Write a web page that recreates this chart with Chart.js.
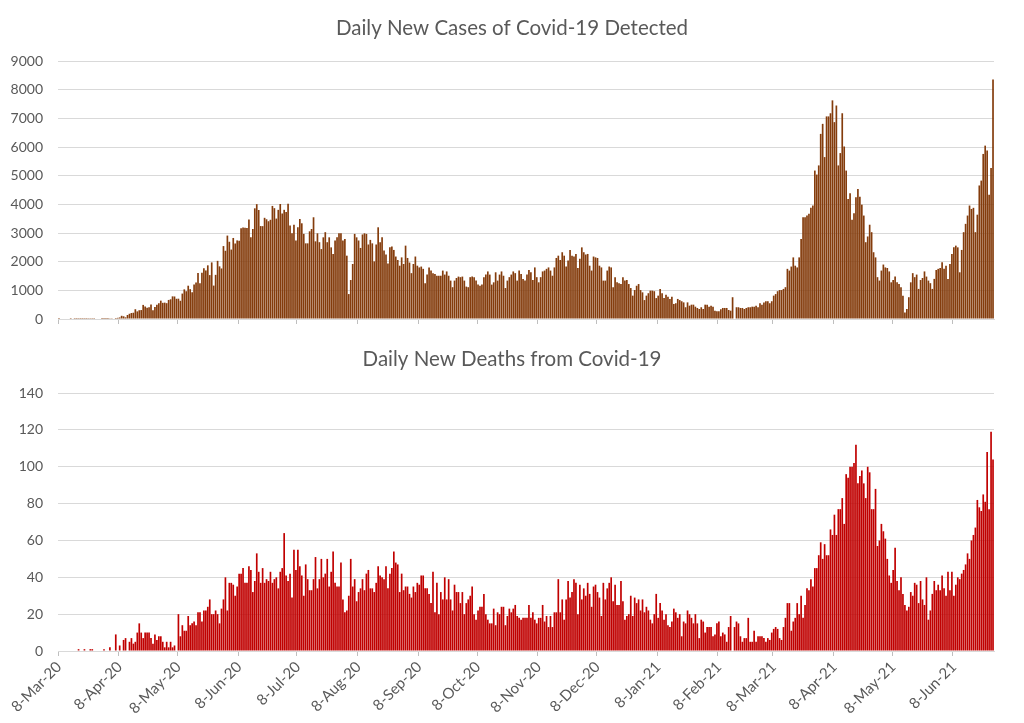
<!DOCTYPE html>
<html>
<head>
<meta charset="utf-8">
<script src="https://cdn.jsdelivr.net/npm/chart.js@4.4.1/dist/chart.umd.min.js"></script>
<style>
	html, body { margin: 0; padding: 0; background: #ffffff; }
	canvas { display: block; }
</style>
</head>
<body>
<canvas id="casesChart" width="1024" height="337"></canvas>
<canvas id="deathsChart" width="1024" height="386"></canvas>
<script>
// first day of the series, one bar per day after it
const firstDay = new Date(2020, 2, 8);

// dates that get a label on the x axis
const monthTicks = [
	'8-Mar-20', '8-Apr-20', '8-May-20', '8-Jun-20', '8-Jul-20', '8-Aug-20',
	'8-Sep-20', '8-Oct-20', '8-Nov-20', '8-Dec-20', '8-Jan-21', '8-Feb-21',
	'8-Mar-21', '8-Apr-21', '8-May-21', '8-Jun-21',
];

// daily new cases, one line per month
const dailyCases = [
	3, 0, 0, 0, 0, 0, 2, 0, 3, 2, 4, 3, 3, 4, 3, 6, 6, 5, 4, 0, 0, 0, 1, 2,
	3, 2, 5, 9, 18, 35, 41, 54, 112, 94, 58, 139, 182, 209, 219, 341, 266, 306, 312, 492, 434, 390, 414, 503, 309, 418, 497, 549, 641, 564,
	571, 552, 665, 688, 790, 786, 706, 709, 636, 887, 1034, 969, 1162, 1041, 930, 1202, 1273, 1602, 1251, 1617, 1773, 1694, 1873, 1532, 1975, 1166, 1541, 2029, 1837, 1764, 2545,
	2381, 2911, 2695, 2423, 2828, 2635, 2743, 2735, 3171, 3190, 3187, 3180, 3471, 2856, 3141, 3862, 4008, 3803, 3243, 3240, 3531, 3480, 3412, 3462, 3946, 3868, 3504, 3809, 4014, 3682,
	3810, 3730, 4020, 3260, 2990, 3290, 2740, 3200, 3490, 3340, 2970, 2640, 2640, 3060, 3140, 3550, 2710, 2990, 2680, 2440, 2850, 3030, 2680, 2850, 2500, 2270, 2740, 2850, 2990, 2990, 2740,
	2790, 2210, 870, 1360, 1920, 2970, 2850, 2740, 2480, 2950, 2990, 2970, 2600, 2760, 2640, 2010, 2600, 3200, 2680, 2850, 2390, 2250, 1940, 2500, 2530, 2410, 2180, 2060, 1860, 2150, 1920,
	2560, 2130, 1970, 1600, 1920, 2180, 1860, 1800, 1830, 1750, 1250, 1550, 1800, 1690, 1600, 1570, 1510, 1510, 1510, 1690, 1550, 1660, 1510, 1340, 1110, 1340, 1430, 1480, 1460, 1480,
	1340, 1130, 1110, 1460, 1480, 1460, 1340, 1200, 1160, 1200, 1460, 1550, 1660, 1550, 1200, 1280, 1630, 1340, 1550, 1660, 1510, 1080, 1340, 1460, 1550, 1660, 1600, 1340, 1690, 1570, 1400,
	1340, 1550, 1710, 1630, 1360, 1800, 1460, 1280, 1460, 1660, 1690, 1750, 1800, 1690, 1510, 1800, 2130, 2210, 2060, 2330, 2210, 1830, 2040, 2410, 2210, 2180, 2270, 1780, 2100, 2500,
	2330, 2250, 2270, 1860, 1690, 2180, 2150, 2130, 1860, 1800, 1340, 1340, 1690, 1830, 1800, 1110, 1460, 1280, 1250, 1220, 1460, 1340, 1360, 1220, 1080, 815, 1010, 1160, 1220, 1010, 930,
	660, 815, 900, 990, 990, 970, 730, 815, 1050, 900, 730, 850, 780, 700, 780, 525, 550, 700, 660, 620, 580, 410, 580, 465, 500, 500, 430, 385, 350, 410, 350,
	500, 500, 430, 465, 430, 290, 270, 270, 340, 385, 385, 385, 315, 290, 760, 0, 410, 410, 385, 385, 350, 385, 410, 410, 430, 430, 465, 410,
	550, 500, 580, 620, 620, 550, 620, 815, 870, 970, 1010, 1010, 1050, 1110, 1750, 1690, 1830, 2150, 1860, 1800, 2150, 2790, 3550, 3550, 3610, 3670, 3880, 3960, 5180, 5040, 5360,
	6460, 6810, 5650, 7070, 7070, 7180, 7630, 6870, 7450, 5360, 5790, 7180, 6020, 5180, 4190, 4390, 3460, 3690, 4250, 4540, 4270, 3990, 3610, 2680, 2880, 3290, 3030, 2330, 2150, 1460,
	1340, 1690, 1900, 1800, 1780, 1660, 1280, 1360, 1480, 1280, 1220, 1110, 815, 230, 350, 760, 1280, 1600, 1460, 1550, 1050, 1360, 1430, 1660, 1480, 1340, 1250, 1050, 1400, 1710, 1750,
	1780, 1980, 1750, 1860, 1400, 1920, 2270, 2500, 2560, 2500, 1630, 2410, 3030, 3320, 3610, 3960, 3840, 3880, 3030, 3640, 4660, 4830, 5760, 6050, 5880, 4340, 5270, 8360,
];

// daily new deaths, one line per month
const dailyDeaths = [
	0, 0, 0, 0, 0, 0, 0, 0, 0, 0, 1, 0, 0, 1, 0, 0, 1, 1, 0, 0, 0, 0, 0, 1,
	0, 0, 2, 0, 0, 9, 0, 3, 0, 6, 7, 0, 5, 7, 4, 5, 10, 15, 10, 7, 10, 10, 10, 7, 4, 9, 6, 8, 8, 5,
	2, 5, 2, 5, 2, 3, 0, 20, 8, 14, 11, 11, 19, 14, 15, 16, 14, 21, 21, 16, 22, 22, 24, 28, 20, 20, 22, 20, 15, 23, 28,
	40, 22, 37, 37, 36, 30, 35, 42, 42, 45, 37, 37, 46, 44, 32, 38, 53, 43, 37, 45, 37, 39, 38, 43, 37, 39, 40, 34, 43, 45,
	64, 41, 38, 42, 29, 55, 44, 55, 46, 41, 30, 47, 39, 33, 33, 39, 51, 34, 39, 50, 40, 42, 50, 35, 43, 54, 37, 35, 35, 48, 28,
	21, 22, 30, 50, 35, 39, 27, 32, 34, 39, 33, 42, 44, 34, 34, 32, 37, 46, 41, 40, 39, 46, 34, 42, 45, 54, 48, 47, 32, 42, 33,
	35, 35, 31, 29, 35, 32, 37, 36, 41, 41, 34, 34, 31, 26, 43, 21, 37, 20, 32, 28, 40, 28, 39, 28, 22, 36, 32, 32, 26, 32,
	20, 26, 28, 30, 35, 20, 17, 22, 24, 24, 31, 20, 17, 15, 15, 23, 14, 21, 20, 24, 24, 14, 19, 23, 21, 23, 25, 19, 18, 17, 18,
	18, 18, 25, 18, 21, 17, 15, 18, 18, 25, 16, 19, 13, 19, 13, 21, 21, 39, 21, 28, 17, 28, 38, 29, 32, 39, 37, 20, 36, 28,
	34, 30, 37, 31, 24, 35, 36, 32, 29, 19, 37, 28, 34, 37, 40, 27, 36, 25, 25, 38, 27, 17, 19, 20, 30, 19, 29, 26, 28, 22, 28,
	21, 24, 22, 17, 15, 20, 31, 18, 26, 22, 17, 20, 14, 13, 16, 23, 21, 18, 20, 8, 16, 15, 22, 20, 18, 15, 20, 15, 7, 17, 16,
	10, 13, 13, 13, 8, 9, 15, 16, 8, 10, 9, 5, 13, 19, 0, 13, 16, 15, 8, 5, 7, 7, 18, 5, 5, 11, 5, 8,
	8, 8, 7, 5, 7, 6, 10, 12, 13, 12, 7, 6, 13, 18, 26, 26, 11, 16, 18, 26, 20, 30, 18, 25, 34, 33, 39, 35, 45, 45, 52,
	59, 50, 58, 52, 52, 66, 63, 74, 63, 77, 77, 83, 69, 96, 94, 100, 100, 102, 112, 91, 95, 98, 91, 83, 100, 97, 77, 77, 88, 57,
	60, 69, 65, 61, 50, 41, 37, 44, 56, 38, 33, 40, 31, 25, 22, 24, 32, 30, 37, 36, 26, 38, 28, 25, 40, 17, 22, 31, 38, 33, 36,
	33, 41, 34, 30, 43, 33, 43, 30, 36, 40, 39, 42, 44, 47, 53, 50, 60, 63, 67, 82, 78, 76, 85, 81, 108, 77, 119, 104,
];

const monthNames = ['Jan', 'Feb', 'Mar', 'Apr', 'May', 'Jun', 'Jul', 'Aug', 'Sep', 'Oct', 'Nov', 'Dec'];

// build the day labels (d-Mon-yy) for every bar
const dayLabels = dailyCases.map((v, i) => {
	const d = new Date(firstDay.getFullYear(), firstDay.getMonth(), firstDay.getDate() + i);
	return `${d.getDate()}-${monthNames[d.getMonth()]}-${String(d.getFullYear()).slice(2)}`;
});

Chart.defaults.font.family = 'Lato';
Chart.defaults.color = '#595959';

function createDailyChart(chartId, title, values, color, yMax, yStep, layout) {
	const ctx = document.getElementById(chartId).getContext('2d');
	const isMonthTick = (i) => monthTicks.includes(dayLabels[i]);

	new Chart(ctx, {
		type: 'bar',
		data: {
			labels: dayLabels,
			datasets: [
				{
					data: values,
					backgroundColor: color,
					borderWidth: 0,
					categoryPercentage: 1,
					barPercentage: 0.86,
				},
			],
		},
		options: {
			responsive: false,
			animation: false,
			devicePixelRatio: 1,
			layout: { padding: 0 },
			plugins: {
				legend: { display: false },
				tooltip: { enabled: false },
				title: {
					display: true,
					text: title,
					color: '#595959',
					font: { size: 20.5, weight: 'normal' },
					padding: { top: layout.titleTop, bottom: layout.titleBottom },
				},
			},
			scales: {
				x: {
					grid: {
						drawOnChartArea: false,
						tickLength: 5,
						tickColor: (c) => (isMonthTick(c.index) ? '#bfbfbf' : 'rgba(0,0,0,0)'),
					},
					border: { color: '#d9d9d9' },
					ticks: {
						autoSkip: false,
						minRotation: 45,
						maxRotation: 45,
						padding: 2,
						color: '#595959',
						font: { size: 15 },
						callback: (v, i) => (layout.showDates && isMonthTick(i) ? dayLabels[i] : ''),
					},
					afterFit: (scale) => {
						scale.height = layout.xHeight;
					},
				},
				y: {
					min: 0,
					max: yMax,
					ticks: {
						stepSize: yStep,
						padding: 3,
						color: '#595959',
						font: { size: 14 },
						callback: (v) => String(v),
					},
					// invisible tick marks keep the labels clear of the plot
					grid: { color: '#d9d9d9', drawTicks: true, tickLength: 12, tickColor: 'rgba(0,0,0,0)' },
					border: { display: false },
					afterFit: (scale) => {
						scale.width = 58;
					},
				},
				// empty right margin so the title stays centred on the page
				rightSpace: {
					position: 'right',
					grid: { display: false },
					ticks: { display: false },
					border: { display: false },
					afterFit: (scale) => {
						scale.width = 30;
					},
				},
			},
		},
	});
}

createDailyChart('casesChart', 'Daily New Cases of Covid-19 Detected', dailyCases, '#843c0c', 9000, 1000, {
	titleTop: 16,
	titleBottom: 20.5,
	showDates: false,
	xHeight: 18,
});

createDailyChart('deathsChart', 'Daily New Deaths from Covid-19', dailyDeaths, '#c00000', 140, 20, {
	titleTop: 10,
	titleBottom: 21.5,
	showDates: true,
	xHeight: 72,
});
</script>
</body>
</html>
